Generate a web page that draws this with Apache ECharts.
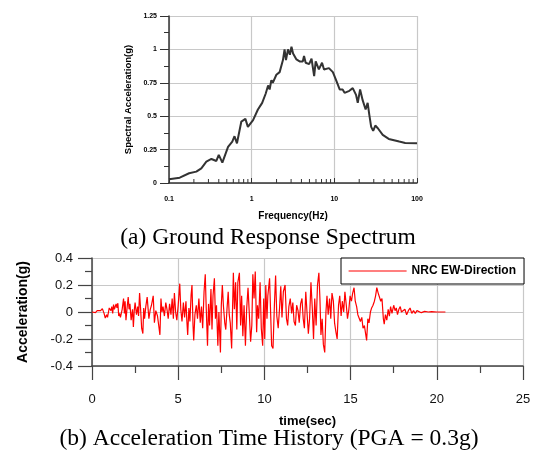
<!DOCTYPE html>
<html><head><meta charset="utf-8">
<script src="https://cdn.jsdelivr.net/npm/echarts@6/dist/echarts.min.js"></script>
<style>html,body{margin:0;padding:0;background:#fff}#c{width:537px;height:456px}</style>
</head><body><div id="c"></div>
<script>
// ---- (a) Ground response spectrum ----
const freqHz = [0.1,0.135,0.175,0.214,0.246,0.283,0.326,0.374,0.4,0.442,0.518,0.583,0.62,0.664,0.75,0.84,0.9,1.04,1.19,1.34,1.48,1.58,1.65,1.73,1.8,1.99,2.18,2.39,2.5,2.6,2.75,2.9,3.03,3.17,3.48,3.8,4.15,4.3,4.5,4.95,5.3,5.7,5.95,6.5,7.1,7.5,8.6,9.6,10.5,11.6,12.6,13.3,15.2,16.7,18.3,19.2,20.5,22,23.9,25.3,26.5,27.9,29.5,31.3,33.6,38.5,45.5,61,72,100];
const spectralAccel = [0.028,0.04,0.073,0.085,0.11,0.16,0.18,0.165,0.21,0.152,0.27,0.31,0.35,0.297,0.46,0.48,0.42,0.47,0.55,0.6,0.67,0.73,0.7,0.77,0.75,0.81,0.83,0.92,1.0,0.92,1.0,0.96,1.02,0.97,0.925,0.91,0.91,0.95,0.9,0.89,0.93,0.8,0.91,0.85,0.9,0.85,0.86,0.83,0.77,0.7,0.7,0.675,0.69,0.71,0.66,0.6,0.7,0.62,0.55,0.6,0.51,0.42,0.39,0.43,0.41,0.36,0.33,0.31,0.3,0.297];
const freqTickLabels = ['0.1','1','10','100'];
const logMinorTicks = [0.2,0.3,0.4,0.5,0.6,0.7,0.8,0.9,2,3,4,5,6,7,8,9,20,30,40,50,60,70,80,90];

// ---- (b) Acceleration time history ----
const timeSec = [0,0.1,0.2,0.3,0.4,0.5,0.6,0.7,0.77,0.85,0.9,1.0,1.1,1.15,1.2,1.25,1.3,1.4,1.45,1.5,1.55,1.6,1.65,1.75,1.83,1.88,1.92,1.97,2.05,2.1,2.15,2.2,2.27,2.35,2.4,2.45,2.5,2.58,2.65,2.7,2.76,2.82,2.88,2.95,3.0,3.05,3.12,3.2,3.3,3.38,3.45,3.55,3.62,3.7,3.8,3.87,3.94,4.0,4.06,4.12,4.2,4.28,4.35,4.42,4.5,4.58,4.65,4.72,4.78,4.85,4.92,5.0,5.09,5.15,5.22,5.3,5.37,5.45,5.5,5.55,5.62,5.68,5.75,5.8,5.86,5.9,5.97,6.05,6.12,6.2,6.28,6.35,6.42,6.5,6.57,6.62,6.7,6.76,6.82,6.9,6.96,7.02,7.1,7.16,7.22,7.3,7.36,7.45,7.5,7.56,7.62,7.7,7.76,7.83,7.9,7.96,8.02,8.1,8.2,8.26,8.33,8.4,8.46,8.55,8.62,8.68,8.75,8.82,8.9,8.97,9.05,9.12,9.2,9.27,9.33,9.4,9.47,9.55,9.6,9.67,9.75,9.82,9.9,9.96,10.02,10.08,10.15,10.2,10.3,10.36,10.42,10.5,10.58,10.65,10.72,10.8,10.88,10.95,11.02,11.1,11.2,11.28,11.35,11.42,11.5,11.58,11.65,11.72,11.8,11.87,11.95,12.02,12.1,12.18,12.25,12.32,12.4,12.47,12.55,12.62,12.7,12.78,12.85,12.92,13.0,13.08,13.16,13.22,13.28,13.35,13.42,13.5,13.57,13.63,13.7,13.78,13.85,13.92,14.0,14.07,14.15,14.22,14.3,14.37,14.45,14.52,14.6,14.67,14.75,14.82,14.9,14.97,15.05,15.12,15.2,15.27,15.35,15.42,15.5,15.57,15.65,15.72,15.8,15.87,15.93,16.0,16.07,16.15,16.22,16.3,16.38,16.45,16.52,16.6,16.67,16.75,16.82,16.9,16.95,17.02,17.1,17.18,17.25,17.32,17.4,17.5,17.58,17.65,17.72,17.8,17.88,17.95,18.05,18.15,18.25,18.35,18.45,18.55,18.65,18.75,18.85,18.95,19.1,19.3,19.5,19.7,20.0,20.5];
const accelG = [0,0.005,-0.005,0.01,0.02,0.01,0.025,-0.01,-0.045,-0.02,-0.04,0.03,0.01,0.04,-0.01,0.055,0.02,0.06,0.03,0.065,-0.03,-0.01,-0.04,0.02,0.1,-0.01,0.08,-0.06,0.05,0.11,0.02,0.06,-0.06,0.02,-0.11,0.01,0.07,-0.02,0.04,-0.03,0.14,0.02,-0.12,-0.16,0.03,-0.05,0.04,0.11,-0.05,0.02,0.05,0.12,-0.08,0.01,-0.03,-0.1,-0.17,0.1,0.0,0.04,-0.03,0.07,0.02,-0.05,0.06,-0.02,0.1,-0.05,0.14,0.0,-0.06,0.05,0.21,0.02,-0.07,0.07,-0.04,0.08,-0.06,-0.17,0.03,-0.07,0.13,0.2,-0.1,-0.21,-0.02,0.05,-0.05,0.1,-0.08,0.04,-0.12,0.15,0.28,0.05,-0.25,0.06,-0.1,0.17,-0.13,0.12,0.25,-0.05,0.05,-0.25,0.0,-0.3,0.05,0.2,0.05,-0.08,-0.13,0.02,0.15,-0.02,-0.08,-0.27,0.29,0.02,0.22,-0.13,0.22,0.29,-0.1,0.12,-0.18,0.05,-0.25,0.02,0.18,0.0,-0.22,-0.1,0.28,0.1,0.3,-0.15,0.05,-0.05,0.22,-0.12,-0.25,0.1,-0.2,0.2,-0.05,0.12,0.25,0.26,-0.25,-0.27,0.05,0.27,-0.03,-0.12,0.03,0.19,-0.04,0.15,0.2,-0.05,-0.1,0.04,0.1,-0.01,0.07,-0.07,-0.1,0.05,0.01,-0.08,0.06,0.1,-0.05,-0.12,0.15,0.0,-0.16,-0.05,0.22,0.02,-0.2,0.1,-0.1,0.2,0.29,0.1,-0.17,-0.05,-0.24,-0.3,0.0,0.12,-0.02,0.1,-0.05,0.14,0.08,-0.08,-0.15,-0.2,0.05,0.12,-0.03,0.08,0.0,0.15,0.05,-0.05,0.02,0.12,0.08,0.14,0.18,0.08,0.04,-0.02,-0.02,-0.07,-0.04,-0.12,-0.1,-0.16,-0.21,-0.05,-0.08,0.0,0.03,0.05,0.08,0.12,0.18,0.14,0.15,0.08,0.1,-0.05,-0.09,-0.02,-0.06,0.02,-0.03,0.04,-0.01,0.05,0.01,0.03,-0.02,0.02,0.04,0.0,-0.01,0.02,-0.02,0.01,0.03,-0.01,0.01,-0.01,0.01,0.005,-0.005,0.005,0,0.003,0,0];
const timeTicks = [0,5,10,15,20,25];
const seriesName = 'NRC EW-Direction';

const FONT = '"Liberation Sans", Arial, sans-serif';
const SERIF = '23.5px "Liberation Serif", "Times New Roman", serif';
const spectrumData = freqHz.map((f, i) => [f, spectralAccel[i]]);
const historyData = timeSec.map((t, i) => [t, accelG[i]]);

const chart = echarts.init(document.getElementById('c'), null, {renderer: 'canvas'});
chart.setOption({
  animation: false,
  backgroundColor: '#fff',
  grid: [
    {left: 169, top: 16, width: 248, height: 167, outerBoundsMode: 'none'},
    {left: 92, top: 258, width: 431, height: 108, outerBoundsMode: 'none'}
  ],
  legend: {
    data: [seriesName],
    left: 341, top: 258,
    padding: [7, 8, 7, 7],
    itemWidth: 58, itemHeight: 14,
    backgroundColor: '#fff',
    borderColor: '#000', borderWidth: 1, borderRadius: 0,
    itemStyle: {opacity: 0},
    lineStyle: {color: '#ff0000', width: 1.2},
    textStyle: {fontFamily: FONT, fontWeight: 'bold', fontSize: 12, color: '#000'}
  },
  xAxis: [
    {
      type: 'log', gridIndex: 0, logBase: 10, min: 0.1, max: 100,
      name: 'Frequency(Hz)', nameLocation: 'middle', nameGap: 28,
      nameTextStyle: {fontFamily: FONT, fontWeight: 'bold', fontSize: 10, color: '#000'},
      axisLine: {onZero: false, lineStyle: {color: '#333', width: 1.5}},
      axisTick: {show: true, inside: true, length: 5, lineStyle: {color: '#333'}},
      axisLabel: {fontFamily: FONT, fontWeight: 'bold', fontSize: 7, color: '#000', margin: 13,
        formatter: v => freqTickLabels[Math.round(Math.log10(v)) + 1] || ''},
      splitLine: {show: true, lineStyle: {color: '#c8c8c8', width: 1.2}}
    },
    {
      type: 'value', gridIndex: 1, min: 0, max: 25, interval: 5,
      name: 'time(sec)', nameLocation: 'middle', nameGap: 49,
      nameTextStyle: {fontFamily: FONT, fontWeight: 'bold', fontSize: 13, color: '#000'},
      axisLine: {onZero: false, lineStyle: {color: '#444', width: 1.5}},
      axisTick: {show: true, length: 14, lineStyle: {color: '#444', width: 1.2}},
      minorTick: {show: true, splitNumber: 2, length: 7, lineStyle: {color: '#444', width: 1.2}},
      axisLabel: {fontFamily: FONT, fontSize: 13, color: '#111', margin: 27,
        formatter: v => String(timeTicks[Math.round(v / 5)])},
      splitLine: {show: true, lineStyle: {color: '#c8c8c8', width: 1.2}}
    }
  ],
  yAxis: [
    {
      type: 'value', gridIndex: 0, min: 0, max: 1.25, interval: 0.25,
      name: 'Spectral Acceleration(g)', nameLocation: 'middle', nameGap: 36,
      nameTextStyle: {fontFamily: FONT, fontWeight: 'bold', fontSize: 9.5, color: '#000'},
      axisLine: {show: true, onZero: false, lineStyle: {color: '#333', width: 1.5}},
      axisTick: {show: true, length: 9, lineStyle: {color: '#333'}},
      minorTick: {show: true, splitNumber: 2, length: 5, lineStyle: {color: '#333'}},
      axisLabel: {fontFamily: FONT, fontWeight: 'bold', fontSize: 7, color: '#000', margin: 12},
      splitLine: {show: true, lineStyle: {color: '#c8c8c8', width: 1.2}}
    },
    {
      type: 'value', gridIndex: 1, min: -0.4, max: 0.4, interval: 0.2,
      name: 'Acceleration(g)', nameLocation: 'middle', nameGap: 62,
      nameTextStyle: {fontFamily: FONT, fontWeight: 'bold', fontSize: 14, color: '#000'},
      axisLine: {show: true, onZero: false, lineStyle: {color: '#444', width: 1.5}},
      axisTick: {show: true, length: 14, lineStyle: {color: '#444', width: 1.2}},
      minorTick: {show: true, splitNumber: 2, length: 7, lineStyle: {color: '#444', width: 1.2}},
      axisLabel: {fontFamily: FONT, fontSize: 13, color: '#111', margin: 19},
      splitLine: {show: true, lineStyle: {color: '#c8c8c8', width: 1.2}}
    }
  ],
  series: [
    {
      type: 'line', xAxisIndex: 0, yAxisIndex: 0, data: spectrumData,
      symbol: 'none', lineStyle: {color: '#333', width: 2}, silent: true
    },
    {
      type: 'custom', xAxisIndex: 0, yAxisIndex: 0, silent: true, clip: false,
      data: logMinorTicks.map(v => [v, 0]),
      renderItem: (params, api) => {
        const p = api.coord([api.value(0), 0]);
        return {type: 'line', shape: {x1: p[0], y1: p[1], x2: p[0], y2: p[1] - 4},
          style: {stroke: '#333', lineWidth: 1}};
      }
    },
    {
      name: seriesName, type: 'line', xAxisIndex: 1, yAxisIndex: 1, data: historyData,
      symbol: 'none', lineStyle: {color: '#ff0000', width: 1.2}, itemStyle: {color: '#ff0000'}, silent: true
    }
  ],
  graphic: [
    {type: 'text', x: 268, y: 238, silent: true,
      style: {text: '(a) Ground Response Spectrum', font: SERIF, fill: '#000', align: 'center', verticalAlign: 'middle'}},
    {type: 'text', x: 269, y: 439, silent: true,
      style: {text: '(b) Acceleration Time History (PGA = 0.3g)', font: SERIF, fill: '#000', align: 'center', verticalAlign: 'middle'}}
  ]
});
</script>
</body></html>
